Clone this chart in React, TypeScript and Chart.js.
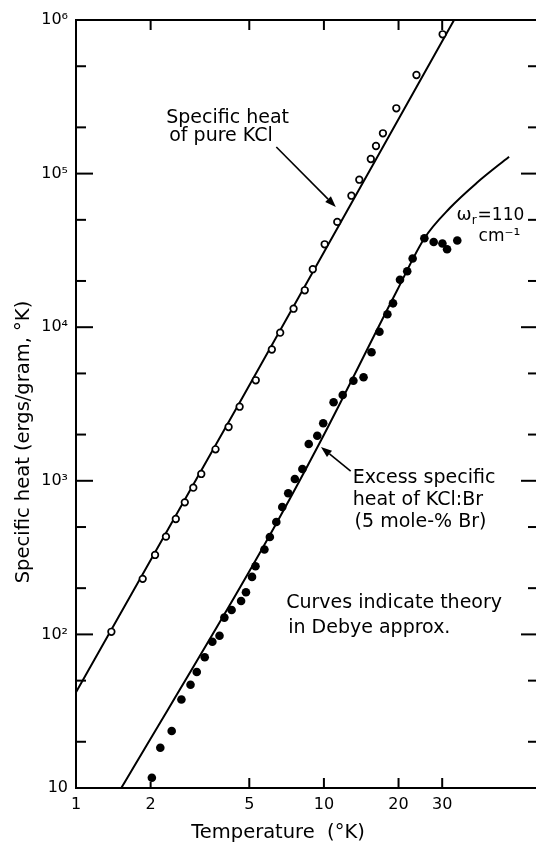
import React, { useEffect, useRef } from 'react';
import { Chart, registerables } from 'chart.js';

Chart.register(...registerables);

// ---------- data ----------
const pureKclTemp = [1.389, 1.858, 2.084, 2.306, 2.527, 2.747, 2.973, 3.201, 3.654, 4.126, 4.571, 5.311, 6.166, 6.662, 7.544, 8.372, 9.02, 10.07, 11.32, 12.91, 13.89, 15.46, 16.22, 17.3, 19.59, 23.62, 30.12];
const pureKclHeat = [104, 230, 329, 433, 564, 724, 902, 1108, 1603, 2240, 3037, 4511, 7159, 9210, 13195, 17388, 23855, 34646, 48486, 71800, 91260, 124500, 151200, 182950, 266200, 438500, 807100];

const kclBrTemp = [2.023, 2.188, 2.432, 2.662, 2.897, 3.07, 3.306, 3.548, 3.792, 3.967, 4.243, 4.634, 4.848, 5.129, 5.297, 5.754, 6.053, 6.427, 6.792, 7.178, 7.635, 8.188, 8.685, 9.402, 9.936, 10.94, 11.91, 13.15, 14.45, 15.56, 16.75, 18.03, 19.0, 20.27, 21.68, 22.8, 25.42, 27.72, 30.06, 31.39, 34.51];
const kclBrHeat = [11.67, 18.3, 23.5, 37.69, 47.04, 56.91, 71.05, 89.65, 98.06, 128.6, 144.2, 165, 188, 236.8, 277.6, 357, 430.6, 539.2, 675.2, 828.9, 1027, 1193, 1736, 1966, 2368, 3244, 3619, 4484, 4719, 6864, 9349, 12134, 14303, 20384, 23151, 28015, 37970, 35860, 35060, 32150, 36690];

const pureTheoryTemp = [1, 4.75, 33.5];
const pureTheoryHeat = [42, 3600, 1000000];

const brTheoryTemp = [1.52, 5.6, 9.61, 19.77, 25.47, 32.21, 41.3, 55.83];
const brTheoryHeat = [9.95, 354, 1762, 17470, 38080, 59700, 86860, 128800];

// ---------- axes ----------
const xMin = 1;
const xMax = 68;
const yMin = 10;
const yMax = 1000000;
const xTickValues = [1, 2, 5, 10, 20, 30];
const xTickLabels = ['1', '2', '5', '10', '20', '30'];
const yMajorValues = [10, 100, 1000, 10000, 100000, 1000000];
const yTickLabels = ['10', '10²', '10³', '10⁴', '10⁵', '10⁶'];
const yMinorValues = [20, 50, 200, 500, 2000, 5000, 20000, 50000, 200000, 500000];

// ---------- annotations (anchored in data space) ----------
const noteTexts = ['Specific heat', 'of pure KCl', 'Excess specific', 'heat of KCl:Br', '(5 mole-% Br)', 'Curves indicate theory', 'in Debye approx.', 'cm⁻¹'];
const noteTemps = [2.312, 2.377, 13.06, 13.06, 13.3, 7.047, 7.178, 42.07];
const noteHeats = [213500, 163000, 967.6, 695.7, 500, 148.6, 102.1, 36410];
const noteSizes = [19, 19, 19, 19, 19, 19, 19, 17];
const omegaTemp = 34.3;
const omegaHeat = 49880;
const arrowFromTemp = [6.427, 12.82];
const arrowFromHeat = [149000, 1158];
const arrowToTemp = [11.17, 9.727];
const arrowToHeat = [60630, 1660];

const FONT = '"DejaVu Sans", sans-serif';

function drawArrow(ctx: CanvasRenderingContext2D, x0: number, y0: number, x1: number, y1: number) {
  const ang = Math.atan2(y1 - y0, x1 - x0);
  const len = 11;
  const hw = 4;
  const bx = x1 - len * Math.cos(ang);
  const by = y1 - len * Math.sin(ang);
  ctx.beginPath();
  ctx.moveTo(x0, y0);
  ctx.lineTo(bx, by);
  ctx.stroke();
  ctx.beginPath();
  ctx.moveTo(x1, y1);
  ctx.lineTo(bx + hw * Math.sin(ang), by - hw * Math.cos(ang));
  ctx.lineTo(bx - hw * Math.sin(ang), by + hw * Math.cos(ang));
  ctx.closePath();
  ctx.fill();
}

const decorPlugin = {
  id: 'decor',
  afterDraw(chart: any) {
    const ctx: CanvasRenderingContext2D = chart.ctx;
    const a = chart.chartArea;
    const xs = chart.scales.x;
    const ys = chart.scales.y;
    const W = chart.width;
    ctx.save();
    ctx.strokeStyle = '#000';
    ctx.fillStyle = '#000';
    ctx.lineWidth = 2;
    const seg = (x0: number, y0: number, x1: number, y1: number) => {
      ctx.beginPath();
      ctx.moveTo(x0, y0);
      ctx.lineTo(x1, y1);
      ctx.stroke();
    };
    // frame (left, bottom, top)
    seg(a.left, a.top - 1, a.left, a.bottom + 1);
    seg(a.left - 1, a.bottom, W, a.bottom);
    seg(a.left - 1, a.top, W, a.top);
    // inward ticks
    xTickValues.forEach((v) => {
      if (v === xMin) return;
      const px = xs.getPixelForValue(v);
      seg(px, a.bottom, px, a.bottom - (v === 2 ? 6 : 10));
      seg(px, a.top, px, a.top + 10);
    });
    yMajorValues.forEach((v) => {
      const py = ys.getPixelForValue(v);
      seg(a.left, py, a.left + 17, py);
      seg(W, py, W - 15, py);
    });
    yMinorValues.forEach((v) => {
      const py = ys.getPixelForValue(v);
      seg(a.left, py, a.left + 10, py);
      seg(W, py, W - 8, py);
    });

    // annotation texts
    ctx.textBaseline = 'alphabetic';
    ctx.textAlign = 'left';
    noteTexts.forEach((t, i) => {
      ctx.font = noteSizes[i] + 'px ' + FONT;
      ctx.fillText(t, xs.getPixelForValue(noteTemps[i]), ys.getPixelForValue(noteHeats[i]));
    });
    // omega_r = 110
    const ox = xs.getPixelForValue(omegaTemp);
    const oy = ys.getPixelForValue(omegaHeat);
    ctx.font = '18px ' + FONT;
    ctx.fillText('ω', ox, oy);
    const w1 = ctx.measureText('ω').width;
    ctx.font = '12px ' + FONT;
    ctx.fillText('r', ox + w1, oy + 4);
    const w2 = ctx.measureText('r').width;
    ctx.font = '17px ' + FONT;
    ctx.fillText('=110', ox + w1 + w2 + 1, oy);

    // arrows
    ctx.lineWidth = 1.6;
    arrowFromTemp.forEach((t, i) => {
      drawArrow(
        ctx,
        xs.getPixelForValue(t),
        ys.getPixelForValue(arrowFromHeat[i]),
        xs.getPixelForValue(arrowToTemp[i]),
        ys.getPixelForValue(arrowToHeat[i])
      );
    });

    // axis titles
    ctx.font = '19.5px ' + FONT;
    ctx.textAlign = 'center';
    ctx.fillText('Temperature  (°K)', 278, 838);
    ctx.save();
    ctx.translate(29, 442);
    ctx.rotate(-Math.PI / 2);
    ctx.fillText('Specific heat (ergs/gram, °K)', 0, 0);
    ctx.restore();

    ctx.restore();
  },
};

export default function App() {
  const canvasRef = useRef<HTMLCanvasElement | null>(null);

  useEffect(() => {
    const canvas = canvasRef.current;
    if (!canvas) return;
    const pts = (xs: number[], ys: number[]) => xs.map((x, i) => ({ x, y: ys[i] }));
    const chart = new Chart(canvas, {
      type: 'scatter',
      data: {
        datasets: [
          {
            label: 'Pure KCl',
            data: pts(pureKclTemp, pureKclHeat),
            pointRadius: 3.3,
            pointBorderWidth: 1.7,
            pointBackgroundColor: '#fff',
            pointBorderColor: '#000',
            showLine: false,
            order: 0,
          },
          {
            label: 'KCl:Br excess',
            data: pts(kclBrTemp, kclBrHeat),
            pointRadius: 4.3,
            pointBorderWidth: 0,
            pointBackgroundColor: '#000',
            pointBorderColor: '#000',
            showLine: false,
            order: 0,
          },
          {
            label: 'Theory pure KCl',
            data: pts(pureTheoryTemp, pureTheoryHeat),
            showLine: true,
            borderColor: '#000',
            borderWidth: 2,
            pointRadius: 0,
            tension: 0,
            order: 1,
          },
          {
            label: 'Theory KCl:Br',
            data: pts(brTheoryTemp, brTheoryHeat),
            showLine: true,
            borderColor: '#000',
            borderWidth: 2,
            pointRadius: 0,
            cubicInterpolationMode: 'monotone',
            order: 1,
          },
        ],
      },
      options: {
        responsive: false,
        animation: false,
        devicePixelRatio: 1,
        layout: { padding: { top: 20, right: 2, left: 0, bottom: 0 } },
        plugins: {
          legend: { display: false },
          tooltip: { enabled: false },
        },
        scales: {
          x: {
            type: 'logarithmic',
            min: xMin,
            max: xMax,
            afterBuildTicks: (scale: any) => {
              scale.ticks = xTickValues.map((v) => ({ value: v }));
            },
            afterFit: (scale: any) => {
              scale.height = 54;
            },
            grid: { display: false, drawTicks: false },
            border: { display: false },
            ticks: {
              autoSkip: false,
              maxRotation: 0,
              padding: 7,
              color: '#000',
              font: { family: 'DejaVu Sans', size: 16 },
              callback: (_v: any, i: number) => xTickLabels[i],
            },
          },
          y: {
            type: 'logarithmic',
            min: yMin,
            max: yMax,
            afterBuildTicks: (scale: any) => {
              scale.ticks = yMajorValues.map((v) => ({ value: v }));
            },
            afterFit: (scale: any) => {
              scale.width = 76;
            },
            grid: { display: false, drawTicks: false },
            border: { display: false },
            ticks: {
              autoSkip: false,
              padding: 8,
              color: '#000',
              font: { family: 'DejaVu Sans', size: 16 },
              callback: (_v: any, i: number) => yTickLabels[i],
            },
          },
        },
      },
      plugins: [decorPlugin],
    } as any);
    return () => chart.destroy();
  }, []);

  return (
    <div style={{ position: 'absolute', left: 0, top: 0, width: 536, height: 842, background: '#fff' }}>
      <canvas ref={canvasRef} width={536} height={842} style={{ display: 'block' }} />
    </div>
  );
}
